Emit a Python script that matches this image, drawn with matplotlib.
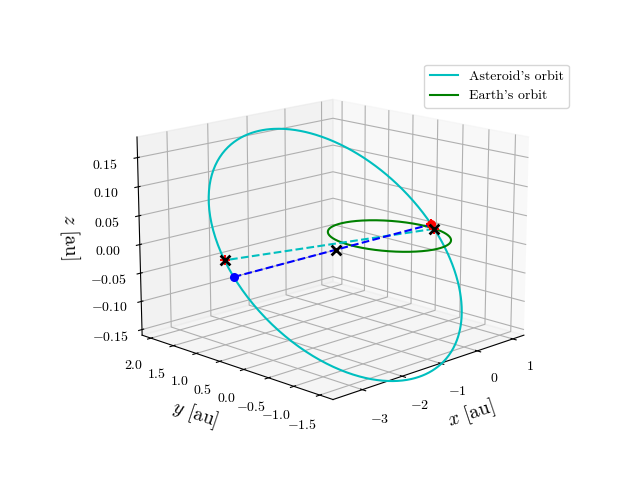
import numpy as np
import matplotlib
matplotlib.use("Agg")
import matplotlib.pyplot as plt

plt.rcParams["font.family"] = "serif"
plt.rcParams["font.serif"] = ["cmr10"]
plt.rcParams["mathtext.fontset"] = "cm"
plt.rcParams["axes.formatter.use_mathtext"] = True

# orbital elements of the asteroid (au, degrees)
a_ast = 2.2
e_ast = 0.55
inc_deg = 5.3
node_deg = -12.0
argp_deg = 4.0
earth_radius = 1.0

def orbit_point(nu):
    r = a_ast * (1 - e_ast**2) / (1 + e_ast * np.cos(nu))
    w = np.radians(argp_deg)
    i = np.radians(inc_deg)
    O = np.radians(node_deg)
    xo = r * np.cos(nu + w)
    yo = r * np.sin(nu + w) * np.cos(i)
    zo = r * np.sin(nu + w) * np.sin(i)
    return np.array([xo * np.cos(O) - yo * np.sin(O),
                     xo * np.sin(O) + yo * np.cos(O), zo])

nu = np.linspace(0, 2 * np.pi, 400)
ast = orbit_point(nu)
th = np.linspace(0, 2 * np.pi, 400)
earth = np.array([earth_radius * np.cos(th), earth_radius * np.sin(th), 0 * th])

peri = orbit_point(0.0)
apo = orbit_point(np.pi)
centre = (peri + apo) / 2
node_a = orbit_point(-np.radians(argp_deg))
node_d = orbit_point(np.pi - np.radians(argp_deg))

fig = plt.figure(figsize=(6.4, 4.8))
ax = fig.add_subplot(projection="3d")
ax.plot(*ast, color="c", label="Asteroid's orbit")
ax.plot(*earth, color="g", label="Earth's orbit")
ax.plot(*np.array([node_a, node_d]).T, "c--")
ax.plot(*np.array([apo, peri]).T, "b--")
ax.scatter(*apo, color="b", s=30, depthshade=False)
ax.scatter(*peri, color="r", s=30, depthshade=False)
for p in (node_a, node_d, peri):
    ax.scatter(*p, color="r", marker="+", s=60, depthshade=False)
for p in (node_a, node_d, centre):
    ax.scatter(*p, color="k", marker="x", s=50, linewidths=2, depthshade=False)

ax.set_xlabel("$x$ [au]", fontsize=14)
ax.set_ylabel("$y$ [au]", fontsize=14)
ax.set_zlabel("$z$ [au]", fontsize=14)
ax.set_ylim(-1.75, 2.2)
ax.set_zlim(-0.16, 0.185)
ax.set_yticks([-1.5, -1.0, -0.5, 0.0, 0.5, 1.0, 1.5, 2.0])
ax.view_init(elev=15, azim=-135)
ax.set_box_aspect(None, zoom=1.15)
fig.legend(loc="upper right", bbox_to_anchor=(0.9, 0.88))
plt.savefig("out.png", dpi=100)
